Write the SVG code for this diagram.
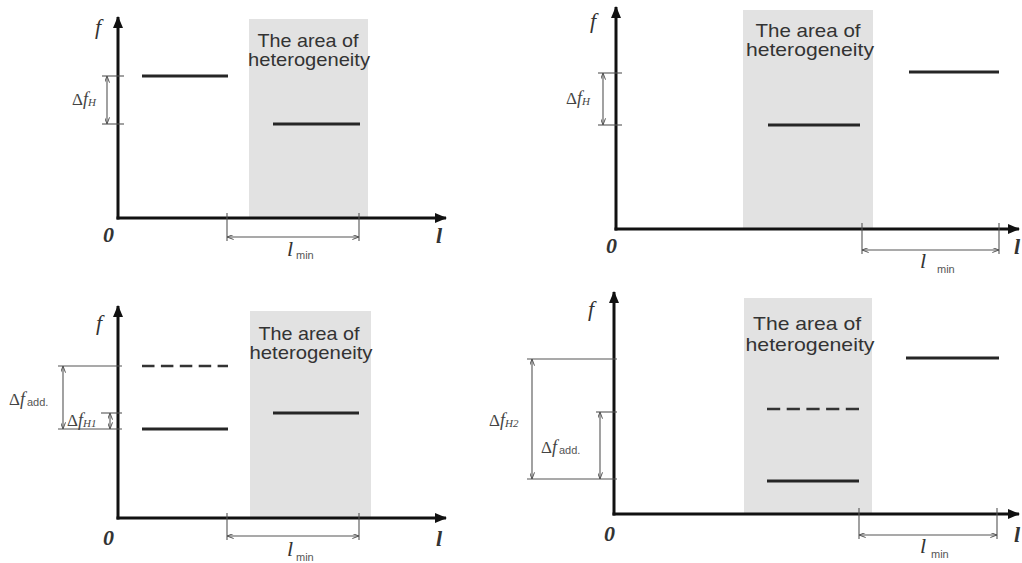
<svg xmlns="http://www.w3.org/2000/svg" width="1022" height="563" viewBox="0 0 1022 563">
<defs>
<marker id="axisArrow" viewBox="0 0 12 10" refX="11" refY="5" markerWidth="12" markerHeight="10" markerUnits="userSpaceOnUse" orient="auto">
<path d="M0,0 L12,5 L0,10 z" fill="#111"/>
</marker>
<marker id="dimArrow" viewBox="0 0 8 6" refX="8" refY="3" markerWidth="7" markerHeight="5" markerUnits="userSpaceOnUse" orient="auto-start-reverse">
<path d="M0,0 L8,3 L0,6" fill="none" stroke="#555" stroke-width="1.2"/>
</marker>
<style>
.zone{fill:#e2e2e2}
.axis{stroke:#111;stroke-width:3;fill:none;marker-end:url(#axisArrow)}
.lvl{stroke:#262626;stroke-width:3;fill:none}
.dash{stroke:#333;stroke-width:2.5;fill:none}
.thin{stroke:#555;stroke-width:1.1;fill:none}
.dim{stroke:#555;stroke-width:1.1;fill:none;marker-start:url(#dimArrow);marker-end:url(#dimArrow)}
.zt{font-family:"Liberation Sans",Arial,sans-serif;font-size:19px;fill:#333;text-anchor:middle}
.ax{font-family:"Liberation Serif","Times New Roman",serif;font-style:italic;font-size:22px;fill:#333}
.axb{font-family:"Liberation Serif","Times New Roman",serif;font-style:italic;font-weight:bold;font-size:22px;fill:#333}
.dl{font-family:"Liberation Serif","Times New Roman",serif;font-size:17px;fill:#444}
.dli{font-family:"Liberation Serif","Times New Roman",serif;font-style:italic;font-size:18px;fill:#444}
.sub{font-family:"Liberation Serif","Times New Roman",serif;font-style:italic;font-size:11px;fill:#444}
.subs{font-family:"Liberation Sans",Arial,sans-serif;font-size:11px;fill:#555}
</style>
</defs>
<rect width="1022" height="563" fill="#fff"/>

<!-- Panel 1: top-left -->
<g id="panel1">
<rect class="zone" x="249" y="19" width="119" height="199"/>
<text class="zt" x="308" y="47" textLength="101" lengthAdjust="spacingAndGlyphs">The area of</text>
<text class="zt" x="309" y="66" textLength="122" lengthAdjust="spacingAndGlyphs">heterogeneity</text>
<line class="lvl" x1="142" y1="76" x2="228" y2="76"/>
<line class="lvl" x1="273" y1="124" x2="360" y2="124"/>
<g class="connectors">
<line class="axis" x1="118" y1="219.5" x2="118" y2="17"/>
<line class="axis" x1="116.5" y1="218" x2="446" y2="218"/>
<line class="thin" x1="102" y1="76" x2="124" y2="76"/>
<line class="thin" x1="102" y1="124" x2="124" y2="124"/>
<line class="dim" x1="107" y1="76" x2="107" y2="124"/>
<line class="thin" x1="227" y1="213" x2="227" y2="241"/>
<line class="thin" x1="359" y1="213" x2="359" y2="241"/>
<line class="dim" x1="227" y1="237" x2="359" y2="237"/>
</g>
<text class="dl" x="72" y="105">Δ<tspan class="dli">f</tspan><tspan class="sub" dy="1">H</tspan></text>
<text class="ax" x="95" y="34">f</text>
<text class="axb" x="103" y="242">0</text>
<text class="axb" x="436" y="243">l</text>
<text class="ax" x="287" y="256" font-size="20">l</text>
<text class="subs" x="296" y="259" font-size="10">min</text>
</g>

<!-- Panel 2: top-right -->
<g id="panel2">
<rect class="zone" x="743" y="10" width="130" height="219"/>
<text class="zt" x="808" y="37" textLength="105" lengthAdjust="spacingAndGlyphs">The area of</text>
<text class="zt" x="810" y="56" textLength="128" lengthAdjust="spacingAndGlyphs">heterogeneity</text>
<line class="lvl" x1="909" y1="72" x2="999" y2="72"/>
<line class="lvl" x1="768" y1="125" x2="860" y2="125"/>
<g class="connectors">
<line class="axis" x1="616" y1="230.5" x2="616" y2="7"/>
<line class="axis" x1="614.5" y1="229" x2="1019" y2="229"/>
<line class="thin" x1="598" y1="73" x2="622" y2="73"/>
<line class="thin" x1="598" y1="125" x2="622" y2="125"/>
<line class="dim" x1="603" y1="73" x2="603" y2="125"/>
<line class="thin" x1="862" y1="223" x2="862" y2="254"/>
<line class="thin" x1="999" y1="223" x2="999" y2="254"/>
<line class="dim" x1="862" y1="250" x2="999" y2="250"/>
</g>
<text class="dl" x="566" y="104">Δ<tspan class="dli">f</tspan><tspan class="sub" dy="1">H</tspan></text>
<text class="ax" x="590" y="28">f</text>
<text class="axb" x="606" y="253">0</text>
<text class="axb" x="1014" y="254">l</text>
<text class="ax" x="920" y="268" font-size="20">l</text>
<text class="subs" x="937" y="273" font-size="10">min</text>
</g>

<!-- Panel 3: bottom-left -->
<g id="panel3">
<rect class="zone" x="250" y="311" width="121" height="207"/>
<text class="zt" x="309" y="340" textLength="101" lengthAdjust="spacingAndGlyphs">The area of</text>
<text class="zt" x="311" y="359" textLength="123" lengthAdjust="spacingAndGlyphs">heterogeneity</text>
<line class="dash" x1="142" y1="366" x2="228" y2="366" stroke-dasharray="12.5 6.4"/>
<line class="lvl" x1="142" y1="429" x2="228" y2="429"/>
<line class="lvl" x1="273" y1="413" x2="359" y2="413"/>
<g class="connectors">
<line class="axis" x1="118" y1="519.5" x2="118" y2="306"/>
<line class="axis" x1="116.5" y1="518" x2="446" y2="518"/>
<line class="thin" x1="58" y1="366" x2="122" y2="366"/>
<line class="thin" x1="58" y1="429" x2="122" y2="429"/>
<line class="dim" x1="63" y1="366" x2="63" y2="429"/>
<line class="thin" x1="101" y1="413" x2="122" y2="413"/>
<line class="dim" x1="110" y1="413" x2="110" y2="429"/>
<line class="thin" x1="227" y1="513" x2="227" y2="540"/>
<line class="thin" x1="359" y1="513" x2="359" y2="540"/>
<line class="dim" x1="227" y1="536" x2="359" y2="536"/>
</g>
<text class="dl" x="9" y="405">Δ<tspan class="dli">f</tspan><tspan class="subs" dx="2" dy="1">add.</tspan></text>
<text class="dl" x="67" y="426" font-size="16">Δ<tspan class="dli">f</tspan><tspan class="sub" dy="1">H1</tspan></text>
<text class="ax" x="96" y="330">f</text>
<text class="axb" x="103" y="545">0</text>
<text class="axb" x="436" y="546">l</text>
<text class="ax" x="287" y="556" font-size="20">l</text>
<text class="subs" x="296" y="561" font-size="10">min</text>
</g>

<!-- Panel 4: bottom-right -->
<g id="panel4">
<rect class="zone" x="744" y="298" width="128" height="216"/>
<text class="zt" x="807" y="330" textLength="108" lengthAdjust="spacingAndGlyphs">The area of</text>
<text class="zt" x="810" y="351" textLength="129" lengthAdjust="spacingAndGlyphs">heterogeneity</text>
<line class="lvl" x1="906" y1="358" x2="999" y2="358"/>
<line class="dash" x1="767" y1="409" x2="859" y2="409" stroke-dasharray="13.2 6.5"/>
<line class="lvl" x1="767" y1="481" x2="859" y2="481"/>
<g class="connectors">
<line class="axis" x1="614" y1="515.5" x2="614" y2="292"/>
<line class="axis" x1="612.5" y1="514" x2="1019" y2="514"/>
<line class="thin" x1="527" y1="359" x2="617" y2="359"/>
<line class="thin" x1="527" y1="479" x2="617" y2="479"/>
<line class="dim" x1="532" y1="359" x2="532" y2="479"/>
<line class="thin" x1="596" y1="412" x2="617" y2="412"/>
<line class="dim" x1="600" y1="412" x2="600" y2="479"/>
<line class="thin" x1="859" y1="508" x2="859" y2="539"/>
<line class="thin" x1="997" y1="508" x2="997" y2="539"/>
<line class="dim" x1="859" y1="535" x2="997" y2="535"/>
</g>
<text class="dl" x="489" y="426">Δ<tspan class="dli">f</tspan><tspan class="sub" dy="1">H2</tspan></text>
<text class="dl" x="541" y="453">Δ<tspan class="dli">f</tspan><tspan class="subs" dx="2" dy="1">add.</tspan></text>
<text class="ax" x="588" y="316">f</text>
<text class="axb" x="604" y="541">0</text>
<text class="axb" x="1014" y="542">l</text>
<text class="ax" x="920" y="553" font-size="20">l</text>
<text class="subs" x="931" y="558" font-size="10">min</text>
</g>
</svg>
